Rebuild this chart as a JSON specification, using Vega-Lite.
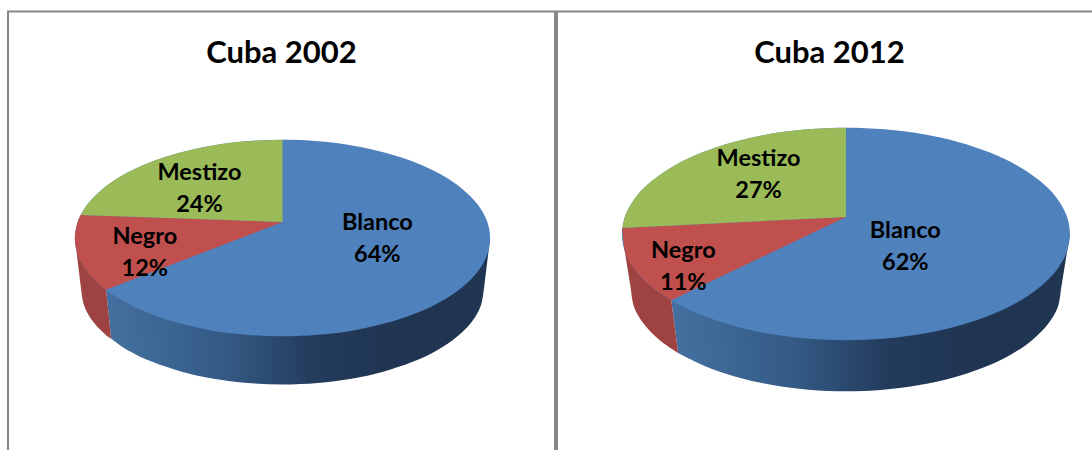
{"$schema":"https://vega.github.io/schema/vega-lite/v6.json","background":"white","padding":{"left":7,"top":10.5,"right":0,"bottom":0},"spacing":0,"config":{"view":{"stroke":"#868686","strokeWidth":2},"title":{"font":"Lato","fontWeight":"bold","fontSize":31,"color":"#000000","offset":-58,"anchor":"middle"},"text":{"font":"Lato","fontWeight":"bold","fontSize":23.5,"color":"#000000","lineBreak":"\n","lineHeight":32,"align":"center","baseline":"middle"}},
"datasets":{
"pie2002":[
{"shape":"Blanco body","o":1,"x":-0.85,"y":-0.52},{"shape":"Blanco body","o":2,"x":-0.825,"y":-1.024},{"shape":"Blanco body","o":3,"x":0,"y":-1.4},{"shape":"Blanco body","o":4,"x":0.97,"y":-0.52},{"shape":"Blanco body","o":5,"x":1,"y":0},
{"shape":"Blanco side","o":1,"x":-0.825,"y":-1.024},{"shape":"Blanco side","o":2,"x":-0.743,"y":-1.144},{"shape":"Blanco side","o":3,"x":-0.624,"y":-1.263},{"shape":"Blanco side","o":4,"x":-0.485,"y":-1.36},{"shape":"Blanco side","o":5,"x":-0.332,"y":-1.432},{"shape":"Blanco side","o":6,"x":-0.169,"y":-1.475},{"shape":"Blanco side","o":7,"x":0,"y":-1.49},{"shape":"Blanco side","o":8,"x":0.169,"y":-1.475},{"shape":"Blanco side","o":9,"x":0.332,"y":-1.432},{"shape":"Blanco side","o":10,"x":0.485,"y":-1.36},{"shape":"Blanco side","o":11,"x":0.624,"y":-1.263},{"shape":"Blanco side","o":12,"x":0.743,"y":-1.144},{"shape":"Blanco side","o":13,"x":0.84,"y":-1.005},{"shape":"Blanco side","o":14,"x":0.912,"y":-0.852},{"shape":"Blanco side","o":15,"x":0.955,"y":-0.689},{"shape":"Blanco side","o":16,"x":0.97,"y":-0.52},
{"shape":"Negro body","o":1,"x":-1,"y":0},{"shape":"Negro body","o":2,"x":-0.97,"y":-0.52},{"shape":"Negro body","o":3,"x":-0.9,"y":-0.8},{"shape":"Negro body","o":4,"x":-0.825,"y":-1.024},{"shape":"Negro body","o":5,"x":-0.85,"y":-0.52},
{"shape":"Negro side","o":1,"x":-0.97,"y":-0.52},{"shape":"Negro side","o":2,"x":-0.955,"y":-0.689},{"shape":"Negro side","o":3,"x":-0.912,"y":-0.852},{"shape":"Negro side","o":4,"x":-0.84,"y":-1.005},{"shape":"Negro side","o":5,"x":-0.825,"y":-1.024},
{"shape":"Blanco top","o":1,"x":1,"y":0},{"shape":"Blanco top","o":2,"x":0.985,"y":0.174},{"shape":"Blanco top","o":3,"x":0.94,"y":0.342},{"shape":"Blanco top","o":4,"x":0.866,"y":0.5},{"shape":"Blanco top","o":5,"x":0.766,"y":0.643},{"shape":"Blanco top","o":6,"x":0.643,"y":0.766},{"shape":"Blanco top","o":7,"x":0.5,"y":0.866},{"shape":"Blanco top","o":8,"x":0.342,"y":0.94},{"shape":"Blanco top","o":9,"x":0.174,"y":0.985},{"shape":"Blanco top","o":10,"x":0,"y":1},{"shape":"Blanco top","o":11,"x":-0.174,"y":0.985},{"shape":"Blanco top","o":12,"x":-0.342,"y":0.94},{"shape":"Blanco top","o":13,"x":-0.5,"y":0.866},{"shape":"Blanco top","o":14,"x":-0.643,"y":0.766},{"shape":"Blanco top","o":15,"x":-0.766,"y":0.643},{"shape":"Blanco top","o":16,"x":-0.866,"y":0.5},{"shape":"Blanco top","o":17,"x":-0.94,"y":0.342},{"shape":"Blanco top","o":18,"x":-0.985,"y":0.174},{"shape":"Blanco top","o":19,"x":-1,"y":0},{"shape":"Blanco top","o":20,"x":-0.985,"y":-0.174},{"shape":"Blanco top","o":21,"x":-0.94,"y":-0.342},{"shape":"Blanco top","o":22,"x":-0.866,"y":-0.5},{"shape":"Blanco top","o":23,"x":-0.766,"y":-0.643},{"shape":"Blanco top","o":24,"x":-0.643,"y":-0.766},{"shape":"Blanco top","o":25,"x":-0.5,"y":-0.866},{"shape":"Blanco top","o":26,"x":-0.342,"y":-0.94},{"shape":"Blanco top","o":27,"x":-0.174,"y":-0.985},{"shape":"Blanco top","o":28,"x":0,"y":-1},{"shape":"Blanco top","o":29,"x":0.174,"y":-0.985},{"shape":"Blanco top","o":30,"x":0.342,"y":-0.94},{"shape":"Blanco top","o":31,"x":0.5,"y":-0.866},{"shape":"Blanco top","o":32,"x":0.643,"y":-0.766},{"shape":"Blanco top","o":33,"x":0.766,"y":-0.643},{"shape":"Blanco top","o":34,"x":0.866,"y":-0.5},{"shape":"Blanco top","o":35,"x":0.94,"y":-0.342},{"shape":"Blanco top","o":36,"x":0.985,"y":-0.174},
{"shape":"Negro arc","o":1,"x":-0.971,"y":0.235},{"shape":"Negro arc","o":2,"x":-0.985,"y":0.174},{"shape":"Negro arc","o":3,"x":-1,"y":0},{"shape":"Negro arc","o":4,"x":-0.985,"y":-0.174},{"shape":"Negro arc","o":5,"x":-0.94,"y":-0.342},{"shape":"Negro arc","o":6,"x":-0.866,"y":-0.5},{"shape":"Negro arc","o":7,"x":-0.85,"y":-0.527},
{"shape":"Negro wedge","o":1,"x":0,"y":0.163},{"shape":"Negro wedge","o":2,"x":-0.971,"y":0.235},{"shape":"Negro wedge","o":3,"x":-0.995,"y":0},{"shape":"Negro wedge","o":4,"x":-0.85,"y":-0.527},
{"shape":"Mestizo arc","o":1,"x":0,"y":1},{"shape":"Mestizo arc","o":2,"x":-0.174,"y":0.985},{"shape":"Mestizo arc","o":3,"x":-0.342,"y":0.94},{"shape":"Mestizo arc","o":4,"x":-0.5,"y":0.866},{"shape":"Mestizo arc","o":5,"x":-0.643,"y":0.766},{"shape":"Mestizo arc","o":6,"x":-0.766,"y":0.643},{"shape":"Mestizo arc","o":7,"x":-0.866,"y":0.5},{"shape":"Mestizo arc","o":8,"x":-0.94,"y":0.342},{"shape":"Mestizo arc","o":9,"x":-0.971,"y":0.235},
{"shape":"Mestizo wedge","o":1,"x":0,"y":0.163},{"shape":"Mestizo wedge","o":2,"x":0,"y":1},{"shape":"Mestizo wedge","o":3,"x":-0.64,"y":0.76},{"shape":"Mestizo wedge","o":4,"x":-0.971,"y":0.235},
{"shape":"label","o":1,"x":0.457,"y":0.153,"label":"Blanco\n64%"},{"shape":"label","o":2,"x":-0.663,"y":0.01,"label":"Negro\n12%"},{"shape":"label","o":3,"x":-0.4,"y":0.663,"label":"Mestizo\n24%"}
],
"pie2012":[
{"shape":"Blanco body","o":1,"x":-0.78,"y":-0.625},{"shape":"Blanco body","o":2,"x":-0.749,"y":-1.12},{"shape":"Blanco body","o":3,"x":0,"y":-1.4},{"shape":"Blanco body","o":4,"x":0.96,"y":-0.52},{"shape":"Blanco body","o":5,"x":1,"y":0},
{"shape":"Blanco side","o":1,"x":-0.749,"y":-1.12},{"shape":"Blanco side","o":2,"x":-0.617,"y":-1.255},{"shape":"Blanco side","o":3,"x":-0.48,"y":-1.351},{"shape":"Blanco side","o":4,"x":-0.328,"y":-1.422},{"shape":"Blanco side","o":5,"x":-0.167,"y":-1.466},{"shape":"Blanco side","o":6,"x":0,"y":-1.48},{"shape":"Blanco side","o":7,"x":0.167,"y":-1.466},{"shape":"Blanco side","o":8,"x":0.328,"y":-1.422},{"shape":"Blanco side","o":9,"x":0.48,"y":-1.351},{"shape":"Blanco side","o":10,"x":0.617,"y":-1.255},{"shape":"Blanco side","o":11,"x":0.735,"y":-1.137},{"shape":"Blanco side","o":12,"x":0.831,"y":-1},{"shape":"Blanco side","o":13,"x":0.902,"y":-0.848},{"shape":"Blanco side","o":14,"x":0.946,"y":-0.687},{"shape":"Blanco side","o":15,"x":0.96,"y":-0.52},
{"shape":"Negro body","o":1,"x":-1,"y":0},{"shape":"Negro body","o":2,"x":-0.96,"y":-0.52},{"shape":"Negro body","o":3,"x":-0.88,"y":-0.82},{"shape":"Negro body","o":4,"x":-0.749,"y":-1.12},{"shape":"Negro body","o":5,"x":-0.78,"y":-0.625},
{"shape":"Negro side","o":1,"x":-0.96,"y":-0.52},{"shape":"Negro side","o":2,"x":-0.946,"y":-0.687},{"shape":"Negro side","o":3,"x":-0.902,"y":-0.848},{"shape":"Negro side","o":4,"x":-0.831,"y":-1},{"shape":"Negro side","o":5,"x":-0.749,"y":-1.12},
{"shape":"Blanco top","o":1,"x":1,"y":0},{"shape":"Blanco top","o":2,"x":0.985,"y":0.174},{"shape":"Blanco top","o":3,"x":0.94,"y":0.342},{"shape":"Blanco top","o":4,"x":0.866,"y":0.5},{"shape":"Blanco top","o":5,"x":0.766,"y":0.643},{"shape":"Blanco top","o":6,"x":0.643,"y":0.766},{"shape":"Blanco top","o":7,"x":0.5,"y":0.866},{"shape":"Blanco top","o":8,"x":0.342,"y":0.94},{"shape":"Blanco top","o":9,"x":0.174,"y":0.985},{"shape":"Blanco top","o":10,"x":0,"y":1},{"shape":"Blanco top","o":11,"x":-0.174,"y":0.985},{"shape":"Blanco top","o":12,"x":-0.342,"y":0.94},{"shape":"Blanco top","o":13,"x":-0.5,"y":0.866},{"shape":"Blanco top","o":14,"x":-0.643,"y":0.766},{"shape":"Blanco top","o":15,"x":-0.766,"y":0.643},{"shape":"Blanco top","o":16,"x":-0.866,"y":0.5},{"shape":"Blanco top","o":17,"x":-0.94,"y":0.342},{"shape":"Blanco top","o":18,"x":-0.985,"y":0.174},{"shape":"Blanco top","o":19,"x":-1,"y":0},{"shape":"Blanco top","o":20,"x":-0.985,"y":-0.174},{"shape":"Blanco top","o":21,"x":-0.94,"y":-0.342},{"shape":"Blanco top","o":22,"x":-0.866,"y":-0.5},{"shape":"Blanco top","o":23,"x":-0.766,"y":-0.643},{"shape":"Blanco top","o":24,"x":-0.643,"y":-0.766},{"shape":"Blanco top","o":25,"x":-0.5,"y":-0.866},{"shape":"Blanco top","o":26,"x":-0.342,"y":-0.94},{"shape":"Blanco top","o":27,"x":-0.174,"y":-0.985},{"shape":"Blanco top","o":28,"x":0,"y":-1},{"shape":"Blanco top","o":29,"x":0.174,"y":-0.985},{"shape":"Blanco top","o":30,"x":0.342,"y":-0.94},{"shape":"Blanco top","o":31,"x":0.5,"y":-0.866},{"shape":"Blanco top","o":32,"x":0.643,"y":-0.766},{"shape":"Blanco top","o":33,"x":0.766,"y":-0.643},{"shape":"Blanco top","o":34,"x":0.866,"y":-0.5},{"shape":"Blanco top","o":35,"x":0.94,"y":-0.342},{"shape":"Blanco top","o":36,"x":0.985,"y":-0.174},
{"shape":"Negro arc","o":1,"x":-0.998,"y":0.057},{"shape":"Negro arc","o":2,"x":-0.985,"y":-0.174},{"shape":"Negro arc","o":3,"x":-0.94,"y":-0.342},{"shape":"Negro arc","o":4,"x":-0.866,"y":-0.5},{"shape":"Negro arc","o":5,"x":-0.78,"y":-0.625},
{"shape":"Negro wedge","o":1,"x":0,"y":0.16},{"shape":"Negro wedge","o":2,"x":-0.998,"y":0.057},{"shape":"Negro wedge","o":3,"x":-0.98,"y":-0.17},{"shape":"Negro wedge","o":4,"x":-0.78,"y":-0.625},
{"shape":"Mestizo arc","o":1,"x":0,"y":1},{"shape":"Mestizo arc","o":2,"x":-0.174,"y":0.985},{"shape":"Mestizo arc","o":3,"x":-0.342,"y":0.94},{"shape":"Mestizo arc","o":4,"x":-0.5,"y":0.866},{"shape":"Mestizo arc","o":5,"x":-0.643,"y":0.766},{"shape":"Mestizo arc","o":6,"x":-0.766,"y":0.643},{"shape":"Mestizo arc","o":7,"x":-0.866,"y":0.5},{"shape":"Mestizo arc","o":8,"x":-0.94,"y":0.342},{"shape":"Mestizo arc","o":9,"x":-0.985,"y":0.174},{"shape":"Mestizo arc","o":10,"x":-0.998,"y":0.057},
{"shape":"Mestizo wedge","o":1,"x":0,"y":0.16},{"shape":"Mestizo wedge","o":2,"x":0,"y":1},{"shape":"Mestizo wedge","o":3,"x":-0.64,"y":0.76},{"shape":"Mestizo wedge","o":4,"x":-0.998,"y":0.057},
{"shape":"label","o":1,"x":0.265,"y":0.028,"label":"Blanco\n62%"},{"shape":"label","o":2,"x":-0.726,"y":-0.161,"label":"Negro\n11%"},{"shape":"label","o":3,"x":-0.39,"y":0.707,"label":"Mestizo\n27%"}
]},
"hconcat":[
{"width":547,"height":441,"title":"Cuba 2002","data":{"name":"pie2002"},
"encoding":{"x":{"field":"x","type":"quantitative","axis":null,"scale":{"domain":[-1.322,1.3125],"nice":false,"zero":false}},"y":{"field":"y","type":"quantitative","axis":null,"scale":{"domain":[-2.183,2.306],"nice":false,"zero":false}},"order":{"field":"o","type":"quantitative"}},
"layer":[
{"transform":[{"filter":"datum.shape==='Blanco body'"}],"mark":{"type":"line","strokeWidth":0,"fill":{"gradient":"linear","x1":0,"y1":0,"x2":1,"y2":0,"stops":[{"offset":0,"color":"#44709f"},{"offset":0.3,"color":"#345a85"},{"offset":0.55,"color":"#233b5c"},{"offset":0.75,"color":"#1f3552"},{"offset":1,"color":"#1f3552"}]}}},
{"transform":[{"filter":"datum.shape==='Blanco side'"}],"mark":{"type":"line","interpolate":"catmull-rom","strokeWidth":0,"fill":{"gradient":"linear","x1":0,"y1":0,"x2":1,"y2":0,"stops":[{"offset":0,"color":"#44709f"},{"offset":0.3,"color":"#345a85"},{"offset":0.55,"color":"#233b5c"},{"offset":0.75,"color":"#1f3552"},{"offset":1,"color":"#1f3552"}]}}},
{"transform":[{"filter":"datum.shape==='Negro body'"}],"mark":{"type":"line","strokeWidth":0,"fill":"#9e4341"}},
{"transform":[{"filter":"datum.shape==='Negro side'"}],"mark":{"type":"line","interpolate":"catmull-rom","strokeWidth":0,"fill":"#9e4341"}},
{"transform":[{"filter":"datum.shape==='Blanco top'"}],"mark":{"type":"line","interpolate":"catmull-rom-closed","strokeWidth":0,"fill":"#4f81bd"}},
{"transform":[{"filter":"datum.shape==='Negro wedge'"}],"mark":{"type":"line","strokeWidth":0,"fill":"#c0504d"}},
{"transform":[{"filter":"datum.shape==='Negro arc'"}],"mark":{"type":"line","interpolate":"catmull-rom","strokeWidth":0,"fill":"#c0504d"}},
{"transform":[{"filter":"datum.shape==='Mestizo wedge'"}],"mark":{"type":"line","strokeWidth":0,"fill":"#9bbb59"}},
{"transform":[{"filter":"datum.shape==='Mestizo arc'"}],"mark":{"type":"line","interpolate":"catmull-rom","strokeWidth":0,"fill":"#9bbb59"}},
{"transform":[{"filter":"datum.shape==='label'"}],"mark":{"type":"text"},"encoding":{"text":{"field":"label"}}}
]},
{"width":536,"height":441,"title":{"text":"Cuba 2012","dx":4.5},"data":{"name":"pie2012"},
"encoding":{"x":{"field":"x","type":"quantitative","axis":null,"scale":{"domain":[-1.29,1.103],"nice":false,"zero":false}},"y":{"field":"y","type":"quantitative","axis":null,"scale":{"domain":[-2.057,2.094],"nice":false,"zero":false}},"order":{"field":"o","type":"quantitative"}},
"layer":[
{"transform":[{"filter":"datum.shape==='Blanco body'"}],"mark":{"type":"line","strokeWidth":0,"fill":{"gradient":"linear","x1":0,"y1":0,"x2":1,"y2":0,"stops":[{"offset":0,"color":"#44709f"},{"offset":0.3,"color":"#345a85"},{"offset":0.55,"color":"#233b5c"},{"offset":0.75,"color":"#1f3552"},{"offset":1,"color":"#1f3552"}]}}},
{"transform":[{"filter":"datum.shape==='Blanco side'"}],"mark":{"type":"line","interpolate":"catmull-rom","strokeWidth":0,"fill":{"gradient":"linear","x1":0,"y1":0,"x2":1,"y2":0,"stops":[{"offset":0,"color":"#44709f"},{"offset":0.3,"color":"#345a85"},{"offset":0.55,"color":"#233b5c"},{"offset":0.75,"color":"#1f3552"},{"offset":1,"color":"#1f3552"}]}}},
{"transform":[{"filter":"datum.shape==='Negro body'"}],"mark":{"type":"line","strokeWidth":0,"fill":"#9e4341"}},
{"transform":[{"filter":"datum.shape==='Negro side'"}],"mark":{"type":"line","interpolate":"catmull-rom","strokeWidth":0,"fill":"#9e4341"}},
{"transform":[{"filter":"datum.shape==='Blanco top'"}],"mark":{"type":"line","interpolate":"catmull-rom-closed","strokeWidth":0,"fill":"#4f81bd"}},
{"transform":[{"filter":"datum.shape==='Negro wedge'"}],"mark":{"type":"line","strokeWidth":0,"fill":"#c0504d"}},
{"transform":[{"filter":"datum.shape==='Negro arc'"}],"mark":{"type":"line","interpolate":"catmull-rom","strokeWidth":0,"fill":"#c0504d"}},
{"transform":[{"filter":"datum.shape==='Mestizo wedge'"}],"mark":{"type":"line","strokeWidth":0,"fill":"#9bbb59"}},
{"transform":[{"filter":"datum.shape==='Mestizo arc'"}],"mark":{"type":"line","interpolate":"catmull-rom","strokeWidth":0,"fill":"#9bbb59"}},
{"transform":[{"filter":"datum.shape==='label'"}],"mark":{"type":"text"},"encoding":{"text":{"field":"label"}}}
]}
]}
